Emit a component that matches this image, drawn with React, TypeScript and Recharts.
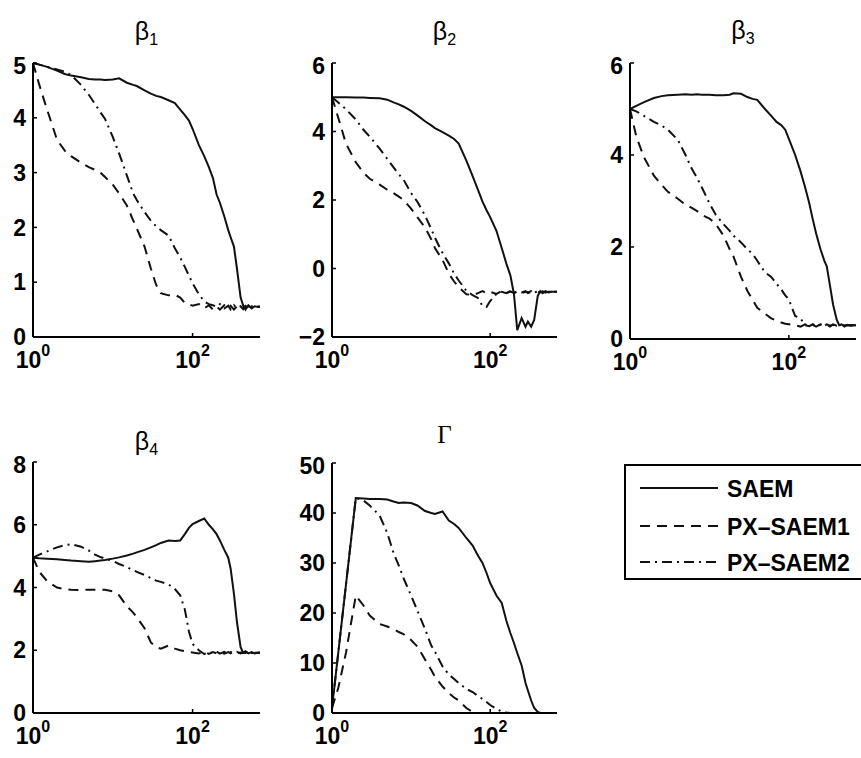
import { LineChart, Line, XAxis, YAxis } from "recharts";

// iteration grid (log axis), shared by all panels
const iter = [1, 1.2, 1.5, 2, 2.5, 3, 4, 5, 6, 7,
  8, 10, 12, 15, 18, 20, 25, 30, 35, 40,
  50, 60, 70, 80, 90, 100, 120, 140, 160, 180,
  200, 220, 250, 280, 300, 330, 360, 400, 430, 460,
  500, 550, 600, 650, 700];

const xTicks = [1, 100];
const xDomain: [number, number] = [1, 700];

// beta 1
const b1Ticks = [0, 1, 2, 3, 4, 5];
const b1Saem = [5.0, 4.97, 4.93, 4.86, 4.8, 4.77, 4.74, 4.71, 4.7, 4.7,
  4.69, 4.7, 4.72, 4.64, 4.6, 4.58, 4.5, 4.44, 4.4, 4.38,
  4.32, 4.27, 4.15, 4.05, 3.95, 3.8, 3.5, 3.3, 3.1, 2.9,
  2.6, 2.45, 2.2, 1.95, 1.82, 1.65, 1.25, 0.72, 0.58, 0.5,
  0.58, 0.52, 0.56, 0.55, 0.55];
const b1Px1 = [5.0, 4.6, 4.15, 3.6, 3.4, 3.3, 3.18, 3.1, 3.05, 3.0,
  2.92, 2.78, 2.62, 2.4, 2.13, 1.98, 1.65, 1.25, 0.95, 0.8,
  0.76, 0.77, 0.72, 0.62, 0.6, 0.57, 0.6, 0.52, 0.58, 0.5,
  0.56, 0.5, 0.58, 0.52, 0.57, 0.5, 0.56, 0.53, 0.57, 0.52,
  0.56, 0.54, 0.55, 0.55, 0.55];
const b1Px2 = [5.0, 4.97, 4.93, 4.88, 4.84, 4.78, 4.6, 4.42, 4.25, 4.1,
  3.98, 3.65, 3.35, 2.95, 2.62, 2.5, 2.28, 2.12, 2.02, 1.95,
  1.85, 1.62, 1.45, 1.28, 1.12, 0.98, 0.78, 0.65, 0.6, 0.58,
  0.55, 0.6, 0.52, 0.57, 0.5, 0.58, 0.53, 0.56, 0.51, 0.57,
  0.54, 0.56, 0.55, 0.55, 0.55];

// beta 2
const b2Ticks = [-2, 0, 2, 4, 6];
const b2Saem = [5.0, 5.0, 5.0, 4.99, 4.99, 4.98, 4.97, 4.93, 4.85, 4.79,
  4.73, 4.6, 4.47, 4.3, 4.18, 4.1, 3.98, 3.88, 3.78, 3.65,
  3.15, 2.7, 2.3, 1.95, 1.7, 1.5, 1.1, 0.6, 0.15, -0.2,
  -0.75, -1.8, -1.45, -1.7, -1.55, -1.7, -1.5, -0.8, -0.66, -0.72,
  -0.66, -0.7, -0.68, -0.68, -0.68];
const b2Px1 = [5.0, 4.4, 3.65, 3.1, 2.8, 2.62, 2.45, 2.3, 2.2, 2.1,
  2.0, 1.75, 1.5, 1.2, 0.85, 0.6, 0.25, -0.15, -0.38, -0.55,
  -0.75, -0.78, -0.72, -0.66, -0.72, -0.68, -0.74, -0.66, -0.72, -0.67,
  -0.71, -0.66, -0.72, -0.68, -0.7, -0.66, -0.72, -0.68, -0.7, -0.67,
  -0.7, -0.68, -0.68, -0.68, -0.68];
const b2Px2 = [5.0, 4.85, 4.65, 4.35, 4.05, 3.85, 3.5, 3.2, 2.95, 2.75,
  2.6, 2.2, 1.95, 1.55, 1.15, 0.9, 0.45, 0.15, -0.15, -0.35,
  -0.65, -0.78, -0.86, -1.1, -1.12, -0.95, -0.74, -0.68, -0.72, -0.66,
  -0.72, -0.67, -0.7, -0.66, -0.72, -0.68, -0.7, -0.67, -0.7, -0.68,
  -0.69, -0.68, -0.68, -0.68, -0.68];

// beta 3
const b3Ticks = [0, 2, 4, 6];
const b3Saem = [5.0, 5.07, 5.15, 5.24, 5.28, 5.3, 5.31, 5.32, 5.31, 5.32,
  5.31, 5.31, 5.3, 5.3, 5.31, 5.34, 5.33, 5.26, 5.22, 5.2,
  5.0, 4.85, 4.72, 4.65, 4.55, 4.35, 4.0, 3.65, 3.3, 2.96,
  2.6, 2.3, 1.95, 1.7, 1.58, 1.15, 0.75, 0.42, 0.3, 0.32,
  0.27, 0.31, 0.29, 0.3, 0.3];
const b3Px1 = [5.0, 4.4, 3.95, 3.55, 3.35, 3.2, 3.05, 2.92, 2.85, 2.78,
  2.7, 2.62, 2.5, 2.25, 1.95, 1.8, 1.35, 1.05, 0.85, 0.68,
  0.55, 0.45, 0.4, 0.36, 0.33, 0.32, 0.3, 0.27, 0.32, 0.28,
  0.31, 0.27, 0.32, 0.29, 0.31, 0.27, 0.32, 0.29, 0.31, 0.28,
  0.3, 0.3, 0.3, 0.3, 0.3];
const b3Px2 = [5.0, 4.95, 4.85, 4.72, 4.64, 4.55, 4.33, 4.0, 3.7, 3.5,
  3.3, 2.95, 2.7, 2.5, 2.35, 2.25, 2.1, 1.95, 1.85, 1.7,
  1.45, 1.35, 1.2, 1.08, 0.95, 0.86, 0.5, 0.45, 0.3, 0.28,
  0.32, 0.27, 0.31, 0.28, 0.32, 0.29, 0.31, 0.28, 0.3, 0.31,
  0.29, 0.3, 0.3, 0.3, 0.3];

// beta 4
const b4Ticks = [0, 2, 4, 6, 8];
const b4Saem = [4.95, 4.93, 4.92, 4.9, 4.88, 4.86, 4.84, 4.82, 4.84, 4.86,
  4.88, 4.92, 4.96, 5.02, 5.08, 5.12, 5.2, 5.28, 5.35, 5.42,
  5.5, 5.48, 5.5, 5.7, 5.9, 6.02, 6.12, 6.2, 6.0, 5.85,
  5.7, 5.5, 5.2, 4.95, 4.6, 3.8, 2.9, 2.1, 1.92, 1.97,
  1.9, 1.94, 1.9, 1.92, 1.92];
const b4Px1 = [4.95, 4.5, 4.2, 4.0, 3.95, 3.93, 3.92, 3.93, 3.93, 3.93,
  3.93, 3.88, 3.75, 3.4, 3.2, 3.05, 2.7, 2.25, 2.1, 2.05,
  2.15, 2.05, 2.0, 1.97, 1.95, 1.93, 1.9, 1.95, 1.88, 1.94,
  1.9, 1.95, 1.89, 1.94, 1.9, 1.96, 1.9, 1.93, 1.91, 1.94,
  1.91, 1.93, 1.92, 1.92, 1.92];
const b4Px2 = [4.95, 5.05, 5.15, 5.28, 5.35, 5.38, 5.3, 5.18, 5.05, 4.97,
  4.92, 4.85, 4.75, 4.65, 4.55, 4.5, 4.4, 4.3, 4.22, 4.18,
  4.1, 3.95, 3.75, 3.3, 2.6, 2.2, 2.0, 1.88, 1.95, 1.9,
  1.96, 1.89, 1.95, 1.9, 1.94, 1.91, 1.95, 1.9, 1.93, 1.91,
  1.93, 1.91, 1.92, 1.92, 1.92];

// Gamma
const gTicks = [0, 10, 20, 30, 40, 50];
const gSaem = [1, null, null, 43, 42.9, 42.8, 42.8, 42.7, 42.3, 42.0,
  42.1, 42.0, 41.5, 40.4, 40.0, 39.8, 40.3, 38.5, 37.8, 37,
  35, 33.5, 31.5, 30, 28, 26, 23.5, 22, 18.5, 16,
  14, 12, 9.5, 6, 4.5, 2.5, 1, 0.2, 0, 0,
  0, 0, 0, 0, 0];
const gPx1 = [1, 5, 12, 23.5, 21.5, 19.5, 17.8, 17.3, 16.8, 16.2,
  15.8, 14.6, 13.3, 10.7, 8.6, 7.3, 5.3, 4.0, 3.1, 2.5,
  1.0, 0.2, 0, 0, 0, 0, 0, 0, 0, 0,
  0, 0, 0, 0, 0, 0, 0, 0, 0, 0,
  0, 0, 0, 0, 0];
const gPx2 = [1, null, null, 43, 42.5, 41.5, 39.5, 36, 32, 29.5,
  27, 23.5, 20.5, 16.8, 13.5, 12.3, 9.3, 7.7, 6.8, 6.0,
  4.8, 4.2, 3.4, 2.8, 2.2, 1.6, 0.8, 0.3, 0.1, 0,
  0, 0, 0, 0, 0, 0, 0, 0, 0, 0,
  0, 0, 0, 0, 0];

const seriesNames = ["SAEM", "PX–SAEM1", "PX–SAEM2"];

const SANS = '"Liberation Sans", Arial, Helvetica, sans-serif';
const SERIF = '"Liberation Serif", "Times New Roman", serif';
const DASH = "10 7";
const DASHDOT = "10 5 2 5";
const INK = "#111";

type Vals = (number | null)[];
type PanelDef = {
  title: string; sub: string; serif?: boolean;
  left: number; top: number; w: number; h: number; titleY: number;
  domain: [number, number]; ticks: number[];
  saem: Vals; px1: Vals; px2: Vals;
};

const panels: PanelDef[] = [
  { title: "β", sub: "1", left: 33, top: 63, w: 227, h: 274, titleY: 40, domain: [0, 5], ticks: b1Ticks, saem: b1Saem, px1: b1Px1, px2: b1Px2 },
  { title: "β", sub: "2", left: 332, top: 63, w: 225, h: 274, titleY: 40, domain: [-2, 6], ticks: b2Ticks, saem: b2Saem, px1: b2Px1, px2: b2Px2 },
  { title: "β", sub: "3", left: 630, top: 63, w: 226, h: 276, titleY: 39, domain: [0, 6], ticks: b3Ticks, saem: b3Saem, px1: b3Px1, px2: b3Px2 },
  { title: "β", sub: "4", left: 33, top: 462, w: 227, h: 251, titleY: 450, domain: [0, 8], ticks: b4Ticks, saem: b4Saem, px1: b4Px1, px2: b4Px2 },
  { title: "Γ", sub: "", serif: true, left: 332, top: 463, w: 225, h: 250, titleY: 443, domain: [0, 50], ticks: gTicks, saem: gSaem, px1: gPx1, px2: gPx2 },
];

function PowTick(props: any) {
  const { x, y, payload } = props;
  const e = Math.round(Math.log10(payload.value));
  return (
    <text x={x} y={y + 31} textAnchor="middle" fill="#000" fontSize={23} fontWeight="bold" fontFamily={SANS}>
      10<tspan dy={-12} fontSize={16}>{e}</tspan>
    </text>
  );
}

const fmtY = (v: number) => (v < 0 ? `−${-v}` : `${v}`);

function Panel({ p }: { p: PanelDef }) {
  const ml = 60, mt = 10, mr = 10, xh = 45;
  const data = iter.map((x, i) => ({ x, saem: p.saem[i], px1: p.px1[i], px2: p.px2[i] }));
  const axisLine = { stroke: "#000", strokeWidth: 2 };
  const tickLine = { stroke: "#000", strokeWidth: 1.5 };
  return (
    <div style={{ position: "absolute", left: p.left - ml, top: p.top - mt }}>
      <LineChart width={p.w + ml + mr} height={p.h + mt + xh} data={data}
        margin={{ top: mt, right: mr, left: 0, bottom: 0 }}>
        <XAxis dataKey="x" type="number" scale="log" domain={xDomain} ticks={xTicks}
          height={xh} tick={<PowTick />} tickSize={-4} tickMargin={4}
          axisLine={axisLine} tickLine={tickLine} />
        <XAxis xAxisId="top" dataKey="x" type="number" scale="log" domain={xDomain} ticks={xTicks}
          orientation="top" mirror height={0} tick={false} tickSize={4}
          axisLine={axisLine} tickLine={tickLine} />
        <YAxis type="number" domain={p.domain} ticks={p.ticks} width={ml}
          tickSize={-4} tickMargin={11} tickFormatter={fmtY}
          tick={{ fill: "#000", fontSize: 23, fontWeight: "bold", fontFamily: SANS }}
          axisLine={axisLine} tickLine={tickLine} />
        <YAxis yAxisId="right" type="number" domain={p.domain} ticks={p.ticks}
          orientation="right" mirror width={0} tick={false} tickSize={4}
          axisLine={axisLine} tickLine={tickLine} />
        <Line dataKey="saem" name={seriesNames[0]} type="linear" stroke={INK} strokeWidth={2}
          dot={false} connectNulls isAnimationActive={false} />
        <Line dataKey="px1" name={seriesNames[1]} type="linear" stroke={INK} strokeWidth={2}
          strokeDasharray={DASH} dot={false} connectNulls isAnimationActive={false} />
        <Line dataKey="px2" name={seriesNames[2]} type="linear" stroke={INK} strokeWidth={2}
          strokeDasharray={DASHDOT} dot={false} connectNulls isAnimationActive={false} />
      </LineChart>
    </div>
  );
}

export default function App() {
  const rows = [488, 526, 562];
  const dashes = [undefined, DASH, DASHDOT];
  return (
    <div style={{ position: "absolute", left: 0, top: 0, width: 861, height: 758, background: "#fff", overflow: "hidden" }}>
      {panels.map((p, i) => <Panel key={i} p={p} />)}
      <svg width={861} height={758} style={{ position: "absolute", left: 0, top: 0, pointerEvents: "none" }}>
        {panels.map((p, i) => (
          <text key={i} x={p.left + p.w / 2} y={p.titleY} textAnchor="middle" fill="#000"
            fontSize={p.serif ? 25 : 25} fontFamily={p.serif ? SERIF : SANS}>
            {p.title}
            {p.sub && <tspan dy={5} fontSize={16}>{p.sub}</tspan>}
          </text>
        ))}
        <rect x={625} y={465} width={250} height={114} fill="none" stroke="#000" strokeWidth={2} />
        {seriesNames.map((n, i) => (
          <g key={n}>
            <line x1={640} x2={718} y1={rows[i]} y2={rows[i]} stroke={INK} strokeWidth={2}
              strokeDasharray={dashes[i]} />
            <text x={727} y={rows[i] + 9} fill="#000" fontSize={23} fontWeight="bold" fontFamily={SANS}>{n}</text>
          </g>
        ))}
      </svg>
    </div>
  );
}
